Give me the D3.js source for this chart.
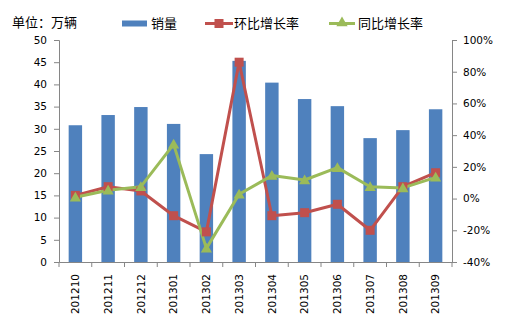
<!DOCTYPE html>
<html><head><meta charset="utf-8">
<script src="https://cdn.jsdelivr.net/npm/d3@7"></script>
<style>body{margin:0;background:#fff;} svg{display:block;}</style>
</head><body>
<script>
const categories = ["201210","201211","201212","201301","201302","201303","201304","201305","201306","201307","201308","201309"];
const sales = [30.8,33.1,34.9,31.1,24.3,45.3,40.4,36.7,35.1,27.9,29.7,34.4];
const momGrowth = [0.02,0.075,0.048,-0.108,-0.21,0.86,-0.108,-0.089,-0.036,-0.20,0.075,0.163];
const yoyGrowth = [0.008,0.052,0.075,0.342,-0.314,0.027,0.145,0.117,0.195,0.075,0.067,0.134];
const leftTicks = [0,5,10,15,20,25,30,35,40,45,50];
const rightTicks = [-0.4,-0.2,0,0.2,0.4,0.6,0.8,1.0];
const seriesNames = ["销量","环比增长率","同比增长率"];
const unitLabel = "单位：万辆";

const W=505,H=332;
const m={left:59,right:53,top:40,bottom:70};
const pw=W-m.left-m.right, ph=H-m.top-m.bottom;
const blue="#4F81BD", red="#C0504D", green="#9BBB59", axisC="#868686";
const font="'DejaVu Sans', Verdana, sans-serif";

const svg=d3.select("body").append("svg").attr("width",W).attr("height",H);
const g=svg.append("g").attr("transform",`translate(${m.left},${m.top})`);

const x=d3.scaleBand().domain(categories).range([0,pw]).paddingInner(0).paddingOuter(0);
const yL=d3.scaleLinear().domain([0,50]).range([ph,0]);
const yR=d3.scaleLinear().domain([-0.4,1.0]).range([ph,0]);
const bw=x.bandwidth()*0.41;

g.selectAll("rect.bar").data(sales).join("rect").attr("class","bar")
 .attr("x",(d,i)=>x(categories[i])+x.bandwidth()/2-bw/2)
 .attr("y",d=>yL(d)).attr("width",bw).attr("height",d=>ph-yL(d)).attr("fill",blue);

// axes
const pct=d=>Math.round(d*100)+"%";
const axL=g.append("g").call(d3.axisLeft(yL).tickValues(leftTicks).tickSize(5).tickPadding(7));
const axR=g.append("g").attr("transform",`translate(${pw},0)`).call(d3.axisRight(yR).tickValues(rightTicks).tickSize(5).tickPadding(6).tickFormat(pct));
const axB=g.append("g").attr("transform",`translate(0,${ph})`).call(d3.axisBottom(x).tickSize(0).tickPadding(0));
// bottom tick marks at band boundaries
g.append("g").selectAll("line").data(d3.range(categories.length+1)).join("line")
 .attr("x1",i=>i*x.step()).attr("x2",i=>i*x.step()).attr("y1",ph).attr("y2",ph+5).attr("stroke",axisC);
[axL,axR,axB].forEach(a=>{
  a.selectAll("path").attr("stroke",axisC);
  a.selectAll("line").attr("stroke",axisC);
  a.selectAll("text").attr("font-family",font).attr("font-size","10.5px").attr("fill","#000");
});
axB.selectAll("text").attr("transform","rotate(-90)").attr("text-anchor","end")
 .attr("dy","0.35em").attr("x",-12).attr("y",0);

// lines
const line=(arr)=>d3.line().x((d,i)=>x(categories[i])+x.bandwidth()/2).y(d=>yR(d))(arr);
g.append("path").attr("d",line(momGrowth)).attr("fill","none").attr("stroke",red).attr("stroke-width",3).attr("stroke-linejoin","round");
g.append("path").attr("d",line(yoyGrowth)).attr("fill","none").attr("stroke",green).attr("stroke-width",3).attr("stroke-linejoin","round");
g.selectAll("rect.mk").data(momGrowth).join("rect").attr("class","mk")
 .attr("x",(d,i)=>x(categories[i])+x.bandwidth()/2-4.5).attr("y",d=>yR(d)-4.5)
 .attr("width",9).attr("height",9).attr("fill",red);
const tri=d3.symbol().type(d3.symbolTriangle).size(55);
g.selectAll("path.tr").data(yoyGrowth).join("path").attr("class","tr")
 .attr("d",tri).attr("transform",(d,i)=>`translate(${x(categories[i])+x.bandwidth()/2},${yR(d)+1})`).attr("fill",green);

// title / unit
svg.append("text").attr("x",12).attr("y",27).text(unitLabel)
 .attr("font-family","'Noto Sans CJK SC', sans-serif").attr("font-size","13px").attr("fill","#000");

// legend
const lg=svg.append("g").attr("font-family","'Noto Sans CJK SC', sans-serif").attr("font-size","13px");
lg.append("rect").attr("x",122).attr("y",20.5).attr("width",25).attr("height",6).attr("fill",blue);
lg.append("text").attr("x",151).attr("y",28).text(seriesNames[0]);
lg.append("line").attr("x1",205).attr("x2",233).attr("y1",23.5).attr("y2",23.5).attr("stroke",red).attr("stroke-width",3);
lg.append("rect").attr("x",214.5).attr("y",19).attr("width",9).attr("height",9).attr("fill",red);
lg.append("text").attr("x",234).attr("y",28).text(seriesNames[1]);
lg.append("line").attr("x1",329).attr("x2",355).attr("y1",23.5).attr("y2",23.5).attr("stroke",green).attr("stroke-width",3);
lg.append("path").attr("d",tri).attr("transform","translate(342,23)").attr("fill",green);
lg.append("text").attr("x",358).attr("y",28).text(seriesNames[2]);
</script>
</body></html>
